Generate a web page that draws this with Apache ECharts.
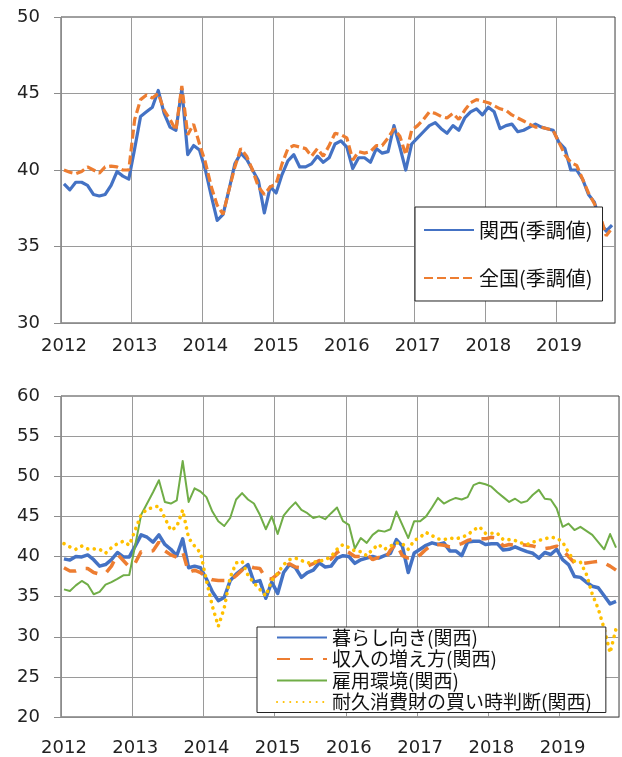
<!DOCTYPE html>
<html>
<head>
<meta charset="utf-8">
<script src="https://cdn.jsdelivr.net/npm/echarts@6/dist/echarts.min.js"></script>
<style>
    html, body { margin: 0; padding: 0; background: #fff; }
    #chart { width: 622px; height: 757px; }
</style>
</head>
<body>
<div id="chart"></div>
<script>
// 月次データ 2012年1月～2019年10月
const years = ['2012', '2013', '2014', '2015', '2016', '2017', '2018', '2019']
const months = []
years.forEach(y => {
    for (let m = 1; m <= 12; m++) months.push(`${y}-${String(m).padStart(2, '0')}`)
})
months.length = 94

// 上段：消費者態度指数
const kansaiIdx = [39.1, 38.7, 39.2, 39.2, 39.0, 38.4, 38.3, 38.4, 39.0, 39.9, 39.6, 39.4,
    41.4, 43.5, 43.8, 44.1, 45.2, 43.7, 42.8, 42.6, 45.3, 41.0, 41.6, 41.3,
    40.0, 38.3, 36.7, 37.1, 38.7, 40.4, 41.1, 40.7, 40.0, 39.3, 37.2, 38.9,
    38.5, 39.7, 40.6, 41.0, 40.2, 40.2, 40.4, 40.9, 40.5, 40.8, 41.7, 41.9,
    41.5, 40.1, 40.8, 40.8, 40.5, 41.4, 41.1, 41.2, 42.9, 41.5, 40.0, 41.7,
    42.1, 42.5, 42.9, 43.1, 42.7, 42.4, 42.9, 42.6, 43.4, 43.8, 44.0, 43.6,
    44.1, 43.8, 42.7, 42.9, 43.0, 42.5, 42.6, 42.8, 43.0, 42.8, 42.7, 42.6,
    41.8, 41.4, 40.0, 40.0, 39.4, 38.4, 37.9, 36.6, 36.0, 36.4]
const zenkokuIdx = [40.0, 39.85, 39.75, 39.9, 40.2, 40.0, 39.8, 40.2, 40.25, 40.2, 40.0, 40.0,
    43.3, 44.6, 44.9, 44.7, 45.0, 43.9, 43.3, 42.6, 45.5, 42.3, 43.0, 41.7,
    40.5, 38.9, 37.7, 37.1, 38.7, 40.2, 41.4, 40.9, 40.0, 38.9, 38.4, 38.9,
    39.1, 40.4, 41.4, 41.6, 41.5, 41.4, 40.9, 41.4, 40.9, 41.6, 42.4, 42.3,
    42.1, 40.65, 41.2, 41.1, 41.2, 41.6, 41.6, 42.1, 42.7, 42.2, 41.0, 42.6,
    42.9, 43.3, 43.8, 43.7, 43.5, 43.4, 43.7, 43.3, 43.9, 44.4, 44.6, 44.5,
    44.4, 44.2, 44.0, 43.9, 43.6, 43.4, 43.2, 43.0, 42.8, 42.8, 42.7, 42.6,
    41.8, 41.0, 40.5, 40.3, 39.4, 38.5, 37.8, 37.0, 35.7, 36.2]

// 下段：意識指標（関西）
const kurashi = [39.7, 39.55, 40.0, 39.95, 40.2, 39.6, 38.8, 39.0, 39.6, 40.5, 39.95, 39.95,
    41.3, 42.7, 42.4, 41.8, 42.7, 41.5, 40.9, 40.1, 42.2, 38.6, 38.8, 38.6,
    37.2, 35.6, 34.5, 34.9, 37.0, 37.8, 38.4, 39.0, 36.8, 37.0, 34.8, 36.8,
    35.4, 38.0, 39.0, 38.6, 37.4, 38.0, 38.3, 39.2, 38.7, 38.8, 39.8, 40.1,
    40.0, 39.15, 39.6, 39.8, 40.0, 39.8, 40.1, 40.4, 42.1, 41.3, 38.0, 40.45,
    40.9, 41.4, 41.7, 41.5, 41.7, 40.7, 40.7, 40.1, 41.8, 41.9, 41.9, 41.5,
    41.6, 41.6, 40.8, 40.9, 41.2, 40.9, 40.6, 40.4, 39.8, 40.5, 40.25, 40.9,
    39.6, 39.0, 37.5, 37.4, 36.8, 36.3, 36.1, 35.1, 34.1, 34.4]
const shunyu = [38.6, 38.2, 38.2, 38.5, 38.5, 38.0, 37.8, 37.9, 38.8, 40.3, 39.5, 38.7,
    39.2, 40.6, 40.6, 40.7, 41.8, 40.7, 40.2, 39.9, 40.6, 38.0, 38.3, 38.0,
    37.4, 37.1, 37.0, 37.0, 37.0, 37.6, 38.3, 38.8, 38.6, 38.5, 37.3, 37.2,
    37.8, 38.6, 39.1, 38.7, 38.6, 38.8, 39.1, 39.5, 39.3, 39.7, 40.5, 40.9,
    40.5, 40.0, 40.0, 40.3, 39.6, 39.9, 39.6, 40.8, 41.6, 40.1, 39.8, 39.8,
    40.2, 40.9, 41.5, 41.5, 41.4, 41.2, 41.4, 41.6, 42.0, 42.2, 42.2, 42.2,
    42.4, 42.3, 41.3, 41.5, 41.4, 41.5, 41.4, 41.3, 41.1, 41.0, 41.1, 41.3,
    40.8, 40.0, 39.2, 39.1, 39.2, 39.3, 39.4, 39.2, 38.8, 38.3]
const koyou = [35.9, 35.7, 36.4, 36.95, 36.5, 35.3, 35.6, 36.5, 36.8, 37.2, 37.65, 37.7,
    41.4, 45.2, 46.6, 48.0, 49.5, 46.8, 46.6, 47.0, 51.9, 46.8, 48.5, 48.1,
    47.4, 45.6, 44.4, 43.8, 44.8, 47.1, 47.9, 47.1, 46.6, 45.2, 43.4, 45.0,
    42.8, 45.1, 46.0, 46.75, 45.8, 45.4, 44.8, 45.0, 44.65, 45.4, 46.1, 44.4,
    43.95, 41.0, 42.3, 41.7, 42.7, 43.25, 43.1, 43.4, 45.6, 43.95, 42.3, 44.4,
    44.4, 45.0, 46.1, 47.3, 46.6, 47.0, 47.3, 47.1, 47.4, 48.9, 49.2, 49.0,
    48.7, 48.0, 47.4, 46.8, 47.2, 46.7, 46.9, 47.7, 48.3, 47.2, 47.1, 46.0,
    43.7, 44.1, 43.3, 43.7, 43.2, 42.7, 41.8, 40.9, 42.8, 41.1]
const kaidoki = [41.6, 41.2, 40.9, 41.3, 40.95, 40.95, 40.9, 40.4, 41.1, 41.6, 41.9, 41.4,
    43.3, 45.2, 45.9, 46.1, 46.3, 44.8, 43.25, 43.7, 45.8, 42.3, 41.3, 40.45,
    37.0, 33.8, 31.3, 33.6, 37.4, 39.2, 39.4, 37.65, 36.7, 35.9, 35.1, 37.0,
    37.9, 39.0, 39.6, 39.8, 39.5, 39.2, 39.3, 39.4, 39.6, 40.0, 40.9, 41.5,
    41.1, 40.7, 40.6, 40.1, 40.9, 41.5, 40.9, 41.3, 41.7, 41.6, 40.9, 42.0,
    42.4, 43.0, 42.6, 42.2, 42.1, 42.3, 42.2, 42.4, 42.7, 43.3, 43.7, 42.9,
    42.9, 42.9, 42.1, 42.1, 42.0, 41.7, 41.5, 41.8, 42.0, 42.2, 42.4, 42.3,
    41.8, 40.5, 39.4, 39.3, 37.8, 35.3, 33.5, 31.0, 28.0, 31.0]

const fontNum = 'DejaVu Sans, Verdana, sans-serif'
const fontJp = '"Noto Sans CJK JP", sans-serif'
const gridColor = '#9a9a9a'
const axisColor = '#8c8c8c'

function catAxis(gridIndex, labelMargin) {
    return {
        type: 'category',
        gridIndex: gridIndex,
        data: months,
        boundaryGap: true,
        axisLine: {lineStyle: {color: axisColor, width: 1}},
        axisTick: {interval: 11, length: 7, lineStyle: {color: axisColor}},
        axisLabel: {
            interval: 11,
            margin: labelMargin,
            formatter: v => v.slice(0, 4),
            fontFamily: fontNum,
            fontSize: 18,
            color: '#222'
        },
        splitLine: {show: true, interval: 11, lineStyle: {color: gridColor, width: 1}}
    }
}

function valAxis(gridIndex, min, max) {
    return {
        type: 'value',
        gridIndex: gridIndex,
        min: min,
        max: max,
        interval: 5,
        axisLine: {show: true, lineStyle: {color: axisColor, width: 1}},
        axisTick: {show: true, length: 7, lineStyle: {color: axisColor}},
        axisLabel: {margin: 21, fontFamily: fontNum, fontSize: 18, color: '#222'},
        splitLine: {show: true, showMaxLine: false, lineStyle: {color: gridColor, width: 1}}
    }
}

function lineSeries(name, data, axisIdx, style) {
    return {
        name: name,
        type: 'line',
        xAxisIndex: axisIdx,
        yAxisIndex: axisIdx,
        data: data,
        symbol: 'none',
        showSymbol: false,
        animation: false,
        color: style.color,
        lineStyle: style
    }
}

// 凡例はマーカーを出さず線だけ
const noMarker = {color: 'rgba(0,0,0,0)', borderColor: 'rgba(0,0,0,0)', borderWidth: 0}

let myChart = echarts.init(document.getElementById('chart'), null, {renderer: 'canvas'})

let option = {
    backgroundColor: '#fff',
    animation: false,
    grid: [
        {left: 61, top: 17, width: 554, height: 306, show: true, borderColor: '#404040', borderWidth: 1},
        {left: 61, top: 396, width: 558, height: 323, show: true, borderColor: '#404040', borderWidth: 1}
    ],
    xAxis: [catAxis(0, 14), catAxis(1, 22)],
    yAxis: [valAxis(0, 30, 50), valAxis(1, 20, 60)],
    legend: [
        {
            data: ['関西(季調値)', '全国(季調値)'],
            orient: 'vertical',
            left: 415,
            top: 207,
            itemWidth: 50,
            itemHeight: 14,
            itemGap: 28,
            padding: [13, 10, 13, 8],
            backgroundColor: '#fff',
            borderColor: '#222',
            borderWidth: 1,
            borderRadius: 0,
            itemStyle: noMarker,
            textStyle: {fontFamily: fontJp, fontSize: 20, color: '#111'}
        },
        {
            data: ['暮らし向き(関西)', '収入の増え方(関西)', '雇用環境(関西)', '耐久消費財の買い時判断(関西)'],
            orient: 'vertical',
            left: 257,
            top: 627,
            itemWidth: 50,
            itemHeight: 14,
            itemGap: 2.5,
            padding: [1, 14, 1, 19],
            backgroundColor: '#fff',
            borderColor: '#222',
            borderWidth: 1,
            borderRadius: 0,
            itemStyle: noMarker,
            textStyle: {fontFamily: fontJp, fontSize: 19, color: '#111'}
        }
    ],
    series: [
        lineSeries('関西(季調値)', kansaiIdx, 0, {color: '#4472C4', width: 3.2, join: 'round'}),
        lineSeries('全国(季調値)', zenkokuIdx, 0, {color: '#ED7D31', width: 3.2, type: [9, 4], cap: 'butt'}),
        lineSeries('暮らし向き(関西)', kurashi, 1, {color: '#4472C4', width: 3.5, join: 'round'}),
        lineSeries('収入の増え方(関西)', shunyu, 1, {color: '#ED7D31', width: 3.5, type: [13, 10], cap: 'butt'}),
        lineSeries('雇用環境(関西)', koyou, 1, {color: '#70AD47', width: 2, join: 'round'}),
        lineSeries('耐久消費財の買い時判断(関西)', kaidoki, 1, {color: '#FFC000', width: 3.6, type: [0.1, 6.5], cap: 'round'})
    ]
}

myChart.setOption(option)
</script>
</body>
</html>
